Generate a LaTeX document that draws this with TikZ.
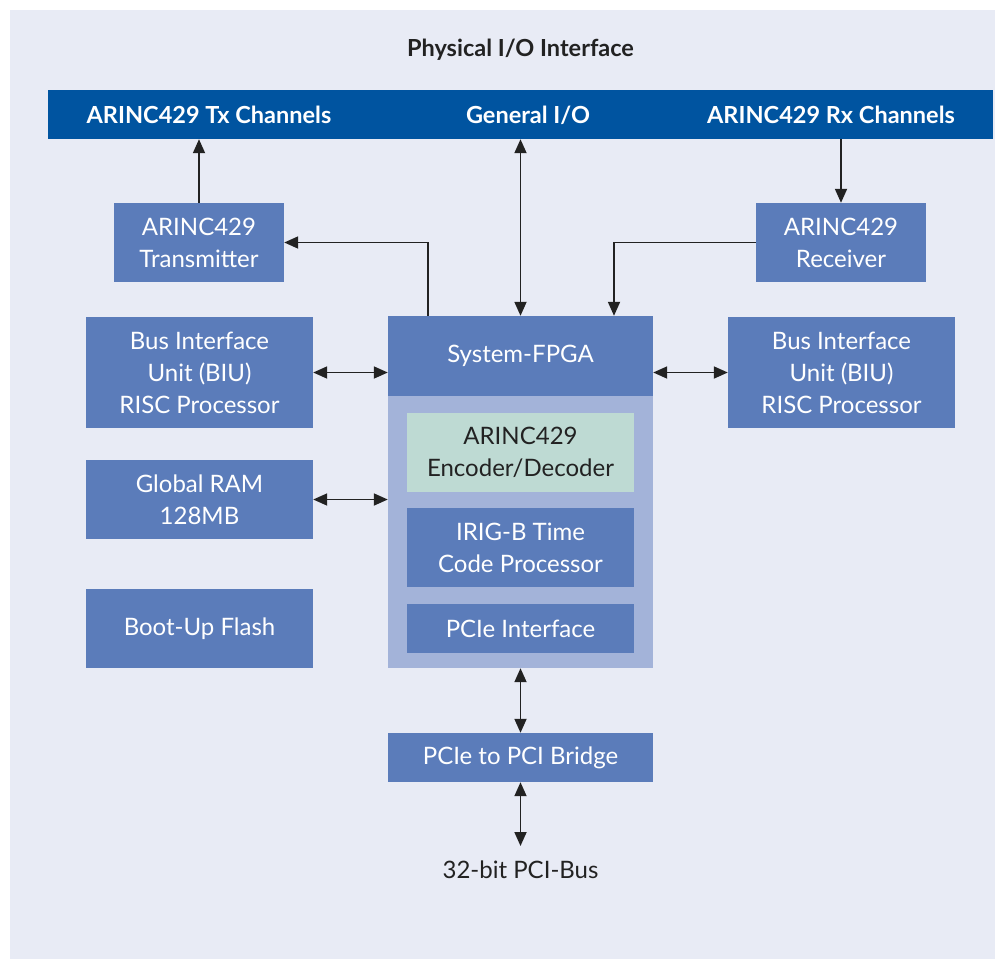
\documentclass[tikz,border=0pt]{standalone}
\usepackage{fontspec}
\setmainfont{Lato}
\usetikzlibrary{arrows.meta}
\definecolor{bgcol}{HTML}{E8EBF5}
\definecolor{barcol}{HTML}{0054A0}
\definecolor{boxcol}{HTML}{5B7CBA}
\definecolor{bodycol}{HTML}{A3B3D9}
\definecolor{enccol}{HTML}{BEDAD3}
\definecolor{txtcol}{HTML}{222222}
\tikzset{>/.tip={Triangle[length=14pt,width=12pt]},
  blk/.style={fill=boxcol, text=white, align=center, inner sep=0pt,
    font=\fontsize{24}{32}\selectfont},
  hdr/.style={font=\fontsize{23.5}{28}\bfseries},
  lnk/.style={draw=txtcol, line width=1.8pt}}

\begin{document}
\begin{tikzpicture}[x=1pt,y=-1pt]
\useasboundingbox (0,0) rectangle (995,959);
\fill[bgcol] (10,10) rectangle (995,959);
\node[hdr, text=txtcol] (title) at (520.5,50) {Physical I/O Interface};
\node[fill=barcol, minimum width=945pt, minimum height=49pt, inner sep=0pt] (bar) at (520.5,114.5) {};
\node[hdr, text=white] (txch) at (209,115) {ARINC429 Tx Channels};
\node[hdr, text=white] (gio)  at (528,115) {General I/O};
\node[hdr, text=white] (rxch) at (831,115) {ARINC429 Rx Channels};
\node[blk, minimum width=170pt, minimum height=79pt] (tx) at (199,242.5) {ARINC429\\Transmitter};
\node[blk, minimum width=170pt, minimum height=79pt] (rx) at (841,242.5) {ARINC429\\Receiver};
\node[blk, minimum width=227pt, minimum height=111pt] (biul) at (199.5,372.5) {Bus Interface\\Unit (BIU)\\RISC Processor};
\node[blk, minimum width=227pt, minimum height=111pt] (biur) at (841.5,372.5) {Bus Interface\\Unit (BIU)\\RISC Processor};
\node[blk, minimum width=227pt, minimum height=79pt] (ram) at (199.5,499.5) {Global RAM\\128MB};
\node[blk, minimum width=227pt, minimum height=79pt] (flash) at (199.5,628.5) {Boot-Up Flash};
\node[fill=bodycol, minimum width=265pt, minimum height=272pt, inner sep=0pt] (fpgabody) at (520.5,532) {};
\node[blk, minimum width=265pt, minimum height=80pt] (fpga) at (520.5,356) {System-FPGA};
\node[blk, fill=enccol, text=txtcol, minimum width=227pt, minimum height=79pt] (enc) at (520.5,452.5) {ARINC429\\Encoder/Decoder};
\node[blk, minimum width=227pt, minimum height=79pt] (irig) at (520.5,547.5) {IRIG-B Time\\Code Processor};
\node[blk, minimum width=227pt, minimum height=49pt] (pcie) at (520.5,628.5) {PCIe Interface};
\node[blk, minimum width=265pt, minimum height=49pt] (bridge) at (520.5,757.5) {PCIe to PCI Bridge};
\node[text=txtcol, font=\fontsize{24}{28}\selectfont] (bus) at (520.5,870) {32-bit PCI-Bus};
\coordinate (busend) at (520.5,846);
% connectors
\draw[lnk,->] (tx.north) -- (tx.north |- bar.south);
\draw[lnk,->] (rx.north |- bar.south) -- (rx.north);
\draw[lnk,<->] (fpga.north |- bar.south) -- (fpga.north);
\draw[lnk,->] ([xshift=-92.5pt]fpga.north) |- (tx.east);
\draw[lnk,->] (rx.west) -| ([xshift=93.5pt]fpga.north);
\draw[lnk,<->] (biul.east) -- (biul.east -| fpga.west);
\draw[lnk,<->] (biur.west) -- (biur.west -| fpga.east);
\draw[lnk,<->] (ram.east) -- (ram.east -| fpga.west);
\draw[lnk,<->] (fpgabody.south) -- (bridge.north);
\draw[lnk,<->] (bridge.south) -- (busend);
\end{tikzpicture}
\end{document}
